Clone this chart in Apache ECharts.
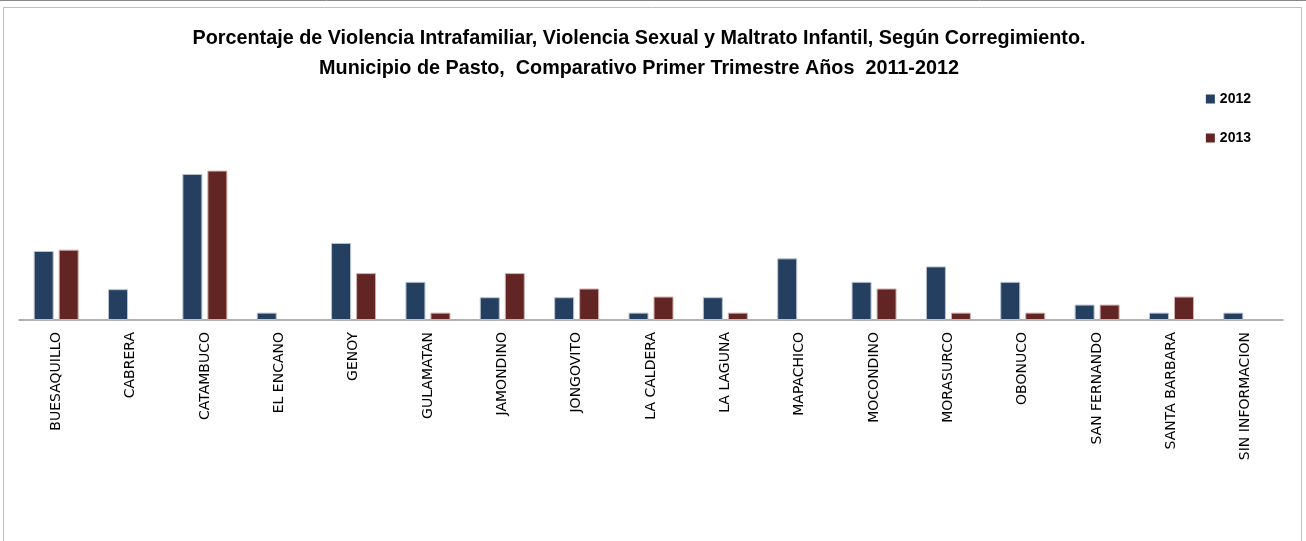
<!DOCTYPE html>
<html><head><meta charset="utf-8">
<script src="https://cdn.jsdelivr.net/npm/echarts@6/dist/echarts.min.js"></script>
<style>html,body{margin:0;padding:0;background:#fff}#c{width:1306px;height:541px}</style>
</head><body><div id="c"></div>
<script>
const categories = ['BUESAQUILLO','CABRERA','CATAMBUCO','EL ENCANO','GENOY','GULAMATAN','JAMONDINO','JONGOVITO','LA CALDERA','LA LAGUNA','MAPACHICO','MOCONDINO','MORASURCO','OBONUCO','SAN FERNANDO','SANTA BARBARA','SIN INFORMACION'];
const seriesNames = ['2012','2013'];
const values2012 = [10.3, 4.6, 21.8, 1.1, 11.5, 5.7, 3.4, 3.4, 1.1, 3.4, 9.2, 5.7, 8.0, 5.7, 2.3, 1.1, 1.1];
const values2013 = [10.5, 0, 22.3, 0, 7.0, 1.1, 7.0, 4.7, 3.5, 1.1, 0, 4.7, 1.1, 1.1, 2.3, 3.5, 0];
const titleLines = ['Porcentaje de Violencia Intrafamiliar, Violencia Sexual y Maltrato Infantil, Según Corregimiento.','Municipio de Pasto,  Comparativo Primer Trimestre Años  2011-2012'];

const noZero = arr => arr.map(v => v === 0 ? null : v);
const titleStyle = {fontFamily:'Liberation Sans', fontWeight:'bold', fontSize:19.8, color:'#000'};

const chart = echarts.init(document.getElementById('c'), null, {renderer:'canvas'});
chart.setOption({
  animation:false,
  backgroundColor:'#fff',
  graphic:[
    {type:'rect', shape:{x:3.5,y:7.5,width:1298,height:560}, style:{fill:'none',stroke:'#bfbfbf',lineWidth:1}, silent:true},
    {type:'line', shape:{x1:0,y1:0.5,x2:1306,y2:0.5}, style:{stroke:'#888',lineWidth:1}, silent:true}
  ],
  title:[
    {text:titleLines[0], left:634, top:24, textAlign:'center', textStyle:titleStyle},
    {text:titleLines[1], left:634, top:54, textAlign:'center', textStyle:titleStyle}
  ],
  legend:{
    orient:'vertical', right:50, top:87, itemGap:25,
    itemWidth:9, itemHeight:9, icon:'rect',
    itemStyle:{borderWidth:0},
    textStyle:{fontFamily:'Liberation Sans', fontWeight:'bold', fontSize:14, color:'#000'},
    data:seriesNames
  },
  grid:{left:19, right:23, top:119, bottom:221, containLabel:false},
  xAxis:{
    type:'category', data:categories,
    axisLine:{lineStyle:{color:'#999',width:1.5}},
    axisTick:{show:false},
    axisLabel:{rotate:90, interval:0, margin:12, fontFamily:'DejaVu Sans', fontSize:14, color:'#000'}
  },
  yAxis:{type:'value', min:0, max:30, show:false, splitLine:{show:false}},
  series:[
    {name:seriesNames[0], type:'bar', data:noZero(values2012), barWidth:20, barGap:'25%',
     itemStyle:{color:'#243F60', borderColor:'#b8c2d0', borderWidth:1}},
    {name:seriesNames[1], type:'bar', data:noZero(values2013), barWidth:20, barGap:'25%',
     itemStyle:{color:'#632523', borderColor:'#cfb0ae', borderWidth:1}}
  ]
});
</script></body></html>
